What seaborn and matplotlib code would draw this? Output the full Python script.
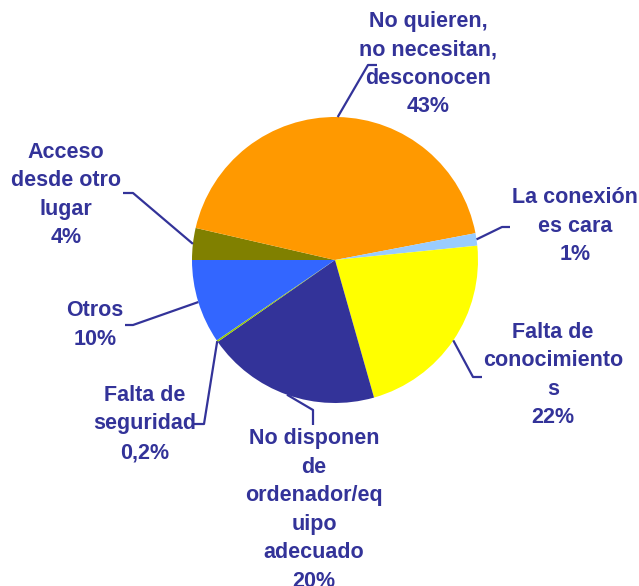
# Pie chart: reasons for not having internet access at home
import numpy as np
import matplotlib.pyplot as plt
import seaborn as sns

sns.set_theme(style="white")
plt.rcParams['font.family'] = ['Liberation Sans', 'DejaVu Sans']

# --- data (clockwise from the left horizontal) ---
categories = ["Acceso\ndesde otro\nlugar",
              "No quieren,\nno necesitan,\ndesconocen",
              "La conexión\nes cara",
              "Falta de\nconocimiento\ns",
              "No disponen\nde\nordenador/eq\nuipo\nadecuado",
              "Falta de\nseguridad",
              "Otros"]
shares = [3.6, 43.4, 1.4, 22.2, 19.7, 0.2, 9.5]
pct_labels = ["4%", "43%", "1%", "22%", "20%", "0,2%", "10%"]
colors = ["#808000", "#FF9900", "#99CCFF", "#FFFF00", "#333399", "#99CC00", "#3366FF"]

# label layout in pixels (x, y from top): elbow, line end, text centre
elbows = [(133, 193), (368, 65), (502, 227), (473, 377), (313, 410), (204, 424), (133, 325)]
ends = [(123, 193), (377, 65), (510, 227), (482, 377), (313, 425), (193, 424), (125, 325)]
text_pos = [(66, 195), (428, 64), (575, 226), (553, 375), (314, 510), (145, 424), (95, 325)]

W, H = 639, 586
text_color = "#333399"

fig = plt.figure(figsize=(W / 100, H / 100), dpi=100)
ax = fig.add_axes([0, 0, 1, 1])

cx, cy, r = 335, H - 260, 143
wedges, _ = ax.pie(shares, colors=colors, startangle=180, counterclock=False,
                   center=(cx, cy), radius=r, wedgeprops=dict(linewidth=0))
ax.set_xlim(0, W)
ax.set_ylim(0, H)
ax.set_aspect('equal')
ax.axis('off')

for w, lab, pct, (ex, ey), (fx, fy), (tx, ty) in zip(wedges, categories, pct_labels,
                                                       elbows, ends, text_pos):
    mid = np.deg2rad((w.theta1 + w.theta2) / 2)
    sx, sy = cx + r * np.cos(mid), cy + r * np.sin(mid)
    ax.plot([sx, ex, fx], [sy, H - ey, H - fy], color=text_color, lw=1.6,
            solid_capstyle='butt', clip_on=False)
    ax.text(tx, H - ty, lab + "\n" + pct, ha='center', va='center', color=text_color,
            fontsize=15.5, fontweight='bold', linespacing=1.47)

fig.savefig("out.png", dpi=100)
plt.close(fig)
